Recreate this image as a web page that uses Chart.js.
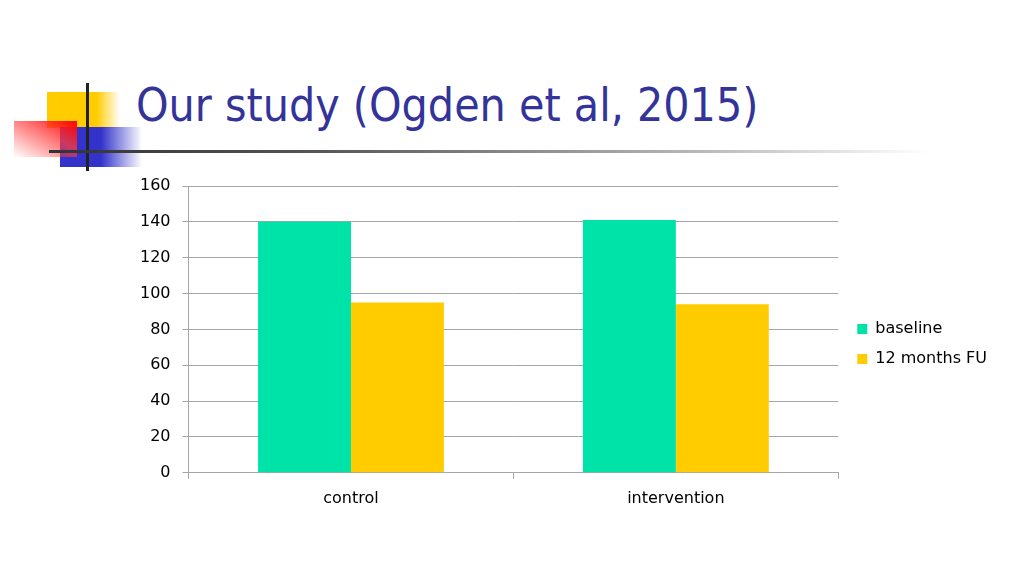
<!doctype html>
<html lang="en">
<head>
    <meta charset="UTF-8">
    <title>Our study (Ogden et al, 2015)</title>
    <style>
        body { margin: 0; width: 1024px; height: 576px; background: #fff; position: relative; overflow: hidden; }
        .deco { position: absolute; }
        #title { position: absolute; left: 136px; top: 78px; margin: 0; font-family: "DejaVu Sans Condensed", "DejaVu Sans", sans-serif;
                 font-weight: normal; font-size: 46px; color: #333399; white-space: nowrap; }
        #wrap { position: absolute; left: 0; top: 0; width: 1024px; height: 576px; }
    </style>
</head>
<body>
    <!-- logo blocks -->
    <div class="deco" style="left:47px; top:92px; width:73px; height:36px; background: linear-gradient(to right, #ffcc00 0%, #ffcc00 68%, rgba(255,204,0,0) 100%);"></div>
    <div class="deco" style="left:60px; top:127px; width:82px; height:40px; background: linear-gradient(to right, #3333cc 0%, #3333cc 50%, rgba(51,51,204,0) 100%);"></div>
    <div class="deco" style="left:14px; top:121px; width:63px; height:36px; background: linear-gradient(to bottom left, #ff0000 0%, rgba(255,60,60,0.75) 40%, rgba(255,255,255,0) 100%);"></div>
    <div class="deco" style="left:86px; top:83px; width:3px; height:88px; background:#222;"></div>
    <div class="deco" style="left:49px; top:150px; width:880px; height:3px; background: linear-gradient(to right, #333 0%, #555 30%, #bbb 75%, rgba(220,220,220,0) 100%);"></div>
    <h1 id="title">Our study (Ogden et al, 2015)</h1>

    <div id="wrap"><canvas id="myChart"></canvas></div>

<script src="https://cdn.jsdelivr.net/npm/chart.js"></script>
<script>
    var categories = ['control', 'intervention'];
    var baseline = [140, 141];
    var followUp = [95, 94];
    var seriesNames = ['baseline', '12 months FU'];

    var font = '"DejaVu Sans", sans-serif';

    // nudge the legend so it sits beside the middle of the plot, a bit away from it
    var legendNudge = {
        id: 'legendNudge',
        afterLayout: function(chart) {
            if (chart.legend) {
                chart.legend.top -= 8;
                chart.legend.bottom -= 8;
                chart.legend.left += 5;
                chart.legend.right += 5;
            }
        }
    };

    var ctx = document.getElementById('myChart').getContext('2d');
    var chart = new Chart(ctx, {
        type: 'bar',
        data: {
            labels: categories,
            datasets: [{
                label: seriesNames[0],
                data: baseline,
                backgroundColor: '#00e3a8'
            }, {
                label: seriesNames[1],
                data: followUp,
                backgroundColor: '#ffcc00'
            }]
        },
        plugins: [legendNudge],
        options: {
            responsive: true,
            maintainAspectRatio: false,
            animation: false,
            layout: { padding: { left: 128, top: 186, right: 32, bottom: 58 } },
            datasets: { bar: { barPercentage: 1.0, categoryPercentage: 0.572 } },
            plugins: {
                legend: {
                    position: 'right',
                    labels: {
                        boxWidth: 10, boxHeight: 10, padding: 14,
                        color: '#000',
                        font: { family: font, size: 16 }
                    }
                },
                tooltip: { enabled: false }
            },
            scales: {
                x: {
                    grid: { display: true, drawOnChartArea: false, tickLength: 6, color: '#a6a6a6', offset: true },
                    border: { color: '#a6a6a6' },
                    ticks: { color: '#000', padding: 10, font: { family: font, size: 16 } }
                },
                y: {
                    min: 0, max: 160,
                    grid: { color: '#a6a6a6', tickLength: 6 },
                    border: { color: '#a6a6a6' },
                    ticks: { stepSize: 20, color: '#000', padding: 12, font: { family: font, size: 16 } }
                }
            }
        }
    });
</script>
</body>
</html>
